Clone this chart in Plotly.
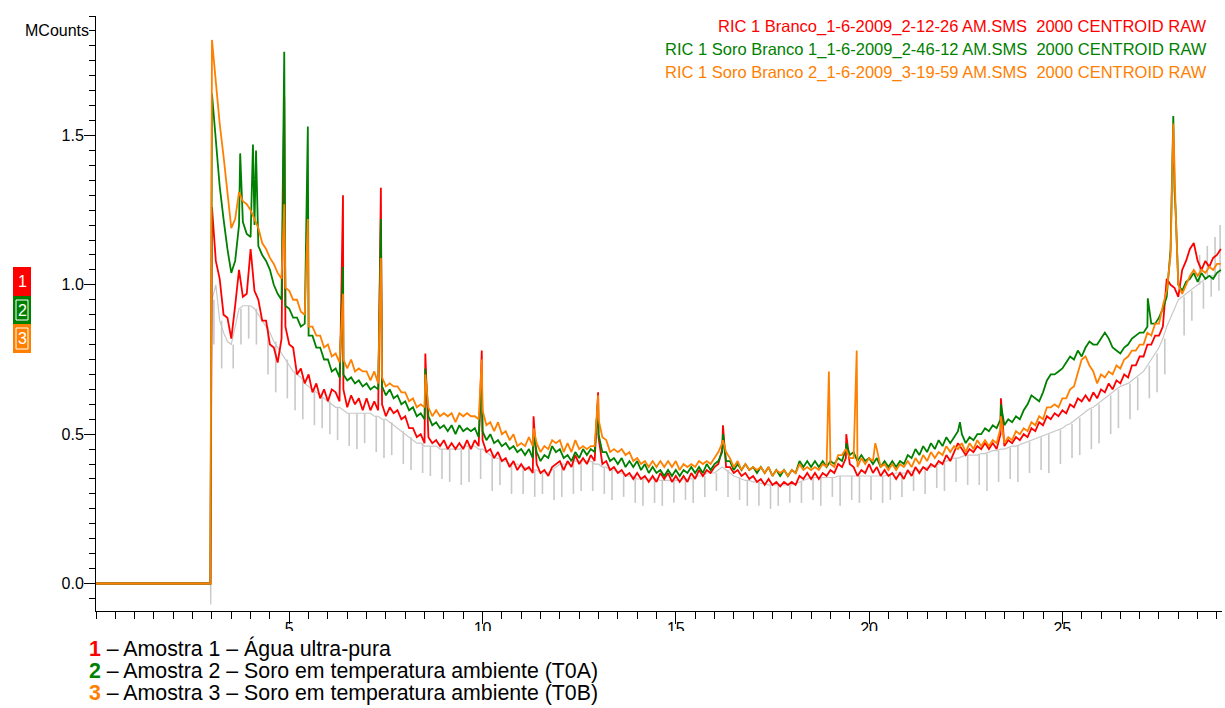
import numpy as np
import plotly.graph_objects as go

# ---------------- chromatogram data (MCounts vs. retention time, min) ----------------
# Scans are stored every 0.1 min from 3.0 min; before that the detector is idle (0).
scan_start = 3.0
scan_step = 0.1

red_scan = [
    1.26, 1.08, 1.02, 0.90, 0.89, 0.82, 0.93, 1.05, 0.96, 0.97,
    1.12, 0.98, 0.95, 0.88, 0.88, 0.80, 0.79, 0.74, 0.82, 0.86,
    0.80, 0.79, 0.70, 0.72, 0.67, 0.70, 0.64, 0.67, 0.62, 0.65,
    0.61, 0.65, 0.64, 0.61, 0.65, 0.59, 0.63, 0.60, 0.62, 0.58,
    0.62, 0.58, 0.61, 0.58, 0.60, 0.56, 0.59, 0.57, 0.58, 0.55,
    0.56, 0.52, 0.52, 0.49, 0.50, 0.47, 0.49, 0.47, 0.48, 0.46,
    0.48, 0.45, 0.47, 0.45, 0.47, 0.45, 0.48, 0.45, 0.48, 0.46,
    0.48, 0.44, 0.45, 0.42, 0.44, 0.41, 0.42, 0.39, 0.41, 0.38,
    0.40, 0.38, 0.39, 0.37, 0.40, 0.37, 0.38, 0.36, 0.39, 0.40,
    0.41, 0.38, 0.41, 0.39, 0.43, 0.40, 0.42, 0.40, 0.43, 0.41,
    0.49, 0.40, 0.41, 0.38, 0.39, 0.37, 0.38, 0.36, 0.37, 0.35,
    0.37, 0.35, 0.36, 0.34, 0.36, 0.34, 0.37, 0.35, 0.37, 0.34,
    0.36, 0.34, 0.36, 0.34, 0.37, 0.35, 0.38, 0.36, 0.38, 0.37,
    0.39, 0.40, 0.45, 0.39, 0.39, 0.37, 0.38, 0.36, 0.37, 0.35,
    0.36, 0.34, 0.35, 0.33, 0.35, 0.33, 0.34, 0.325, 0.34, 0.33,
    0.34, 0.33, 0.36, 0.35, 0.37, 0.35, 0.37, 0.35, 0.37, 0.36,
    0.38, 0.37, 0.40, 0.39, 0.42, 0.40, 0.39, 0.36, 0.38, 0.37,
    0.40, 0.37, 0.39, 0.36, 0.38, 0.36, 0.37, 0.35, 0.37, 0.35,
    0.38, 0.36, 0.39, 0.37, 0.39, 0.38, 0.40, 0.39, 0.41, 0.40,
    0.43, 0.41, 0.44, 0.47, 0.45, 0.43, 0.45, 0.44, 0.46, 0.45,
    0.47, 0.45, 0.47, 0.45, 0.50, 0.46, 0.48, 0.47, 0.49, 0.48,
    0.50, 0.49, 0.52, 0.51, 0.54, 0.53, 0.56, 0.55, 0.57, 0.56,
    0.58, 0.57, 0.60, 0.59, 0.62, 0.61, 0.63, 0.61, 0.64, 0.62,
    0.65, 0.64, 0.67, 0.65, 0.68, 0.67, 0.70, 0.69, 0.73, 0.73,
    0.76, 0.76, 0.80, 0.80, 0.83, 0.83, 0.86, 1.02, 1.00, 0.99,
    0.96, 1.05, 1.08, 1.12, 1.14, 1.08, 1.05, 1.08, 1.06, 1.09,
    1.10, 1.12,
]

green_scan = [
    1.64, 1.47, 1.33, 1.22, 1.12, 1.04, 1.08, 1.20, 1.21, 1.17,
    1.16, 1.20, 1.13, 1.10, 1.08, 1.05, 1.00, 0.97, 0.95, 0.93,
    0.92, 0.89, 0.89, 0.86, 0.87, 0.83, 0.83, 0.79, 0.79, 0.75,
    0.75, 0.71, 0.72, 0.69, 0.70, 0.68, 0.69, 0.67, 0.68, 0.66,
    0.67, 0.65, 0.66, 0.65, 0.66, 0.63, 0.65, 0.62, 0.63, 0.60,
    0.61, 0.58, 0.59, 0.56, 0.57, 0.55, 0.56, 0.53, 0.54, 0.52,
    0.53, 0.51, 0.53, 0.50, 0.53, 0.51, 0.52, 0.51, 0.52, 0.49,
    0.51, 0.48, 0.50, 0.47, 0.48, 0.46, 0.47, 0.45, 0.46, 0.44,
    0.45, 0.43, 0.45, 0.42, 0.44, 0.41, 0.43, 0.42, 0.46, 0.44,
    0.45, 0.42, 0.43, 0.41, 0.44, 0.42, 0.45, 0.43, 0.45, 0.44,
    0.50, 0.44, 0.44, 0.41, 0.42, 0.40, 0.42, 0.39, 0.41, 0.39,
    0.41, 0.38, 0.40, 0.37, 0.39, 0.37, 0.38, 0.36, 0.38, 0.36,
    0.38, 0.36, 0.38, 0.37, 0.39, 0.37, 0.39, 0.37, 0.40, 0.38,
    0.40, 0.41, 0.44, 0.41, 0.41, 0.38, 0.40, 0.38, 0.40, 0.38,
    0.39, 0.37, 0.39, 0.37, 0.39, 0.36, 0.38, 0.36, 0.38, 0.36,
    0.38, 0.37, 0.41, 0.39, 0.41, 0.39, 0.41, 0.39, 0.41, 0.39,
    0.41, 0.40, 0.42, 0.41, 0.45, 0.43, 0.44, 0.41, 0.43, 0.41,
    0.42, 0.40, 0.42, 0.39, 0.41, 0.39, 0.41, 0.39, 0.41, 0.40,
    0.43, 0.42, 0.45, 0.43, 0.46, 0.44, 0.47, 0.45, 0.48, 0.46,
    0.49, 0.47, 0.49, 0.51, 0.50, 0.47, 0.49, 0.48, 0.50, 0.50,
    0.52, 0.51, 0.53, 0.52, 0.55, 0.53, 0.55, 0.54, 0.56, 0.55,
    0.58, 0.60, 0.63, 0.62, 0.61, 0.64, 0.68, 0.70, 0.70, 0.71,
    0.72, 0.74, 0.76, 0.75, 0.78, 0.76, 0.79, 0.81, 0.80, 0.80,
    0.82, 0.84, 0.82, 0.79, 0.78, 0.77, 0.79, 0.80, 0.82, 0.83,
    0.84, 0.84, 0.86, 0.87, 0.87, 0.89, 0.92, 0.96, 1.12, 1.32,
    1.00, 0.98, 1.01, 1.02, 1.04, 1.01, 1.04, 1.02, 1.03, 1.02,
    1.04, 1.05,
]

orange_scan = [
    1.82, 1.68, 1.54, 1.43, 1.30, 1.19, 1.22, 1.31, 1.28, 1.27,
    1.25, 1.22, 1.19, 1.14, 1.12, 1.09, 1.07, 1.04, 1.02, 0.99,
    0.98, 0.95, 0.95, 0.91, 0.90, 0.86, 0.86, 0.83, 0.83, 0.79,
    0.80, 0.76, 0.77, 0.74, 0.75, 0.72, 0.75, 0.71, 0.72, 0.71,
    0.71, 0.68, 0.71, 0.67, 0.69, 0.66, 0.67, 0.66, 0.66, 0.64,
    0.64, 0.61, 0.62, 0.59, 0.60, 0.59, 0.59, 0.56, 0.58, 0.56,
    0.57, 0.56, 0.57, 0.54, 0.57, 0.56, 0.57, 0.56, 0.56, 0.55,
    0.58, 0.53, 0.54, 0.51, 0.54, 0.50, 0.51, 0.48, 0.50, 0.46,
    0.47, 0.46, 0.49, 0.46, 0.47, 0.44, 0.46, 0.45, 0.48, 0.47,
    0.48, 0.44, 0.47, 0.44, 0.48, 0.45, 0.46, 0.45, 0.46, 0.46,
    0.55, 0.49, 0.48, 0.44, 0.45, 0.44, 0.45, 0.43, 0.44, 0.41,
    0.42, 0.40, 0.41, 0.39, 0.41, 0.39, 0.41, 0.39, 0.41, 0.39,
    0.41, 0.38, 0.40, 0.39, 0.40, 0.39, 0.41, 0.40, 0.41, 0.40,
    0.42, 0.44, 0.47, 0.44, 0.42, 0.39, 0.41, 0.38, 0.40, 0.38,
    0.39, 0.38, 0.39, 0.37, 0.39, 0.36, 0.38, 0.37, 0.38, 0.36,
    0.38, 0.37, 0.40, 0.38, 0.39, 0.38, 0.39, 0.38, 0.40, 0.39,
    0.40, 0.39, 0.43, 0.43, 0.45, 0.42, 0.42, 0.39, 0.42, 0.40,
    0.42, 0.41, 0.45, 0.39, 0.40, 0.38, 0.40, 0.38, 0.40, 0.39,
    0.41, 0.39, 0.42, 0.40, 0.43, 0.41, 0.44, 0.42, 0.44, 0.43,
    0.46, 0.44, 0.46, 0.45, 0.47, 0.44, 0.47, 0.45, 0.48, 0.46,
    0.48, 0.46, 0.48, 0.47, 0.52, 0.47, 0.49, 0.48, 0.51, 0.50,
    0.52, 0.51, 0.54, 0.53, 0.56, 0.55, 0.59, 0.59, 0.60, 0.59,
    0.62, 0.62, 0.65, 0.66, 0.71, 0.75, 0.76, 0.73, 0.71, 0.67,
    0.70, 0.69, 0.71, 0.70, 0.73, 0.72, 0.75, 0.76, 0.78, 0.78,
    0.80, 0.80, 0.84, 0.83, 0.87, 0.87, 0.93, 0.98, 1.10, 1.40,
    1.00, 0.97, 1.00, 1.03, 1.05, 1.03, 1.05, 1.04, 1.06, 1.05,
    1.07, 1.07,
]

gray_scan = [
    0.95, 1.00, 0.88, 0.84, 0.81, 0.80, 0.86, 0.92, 0.93, 0.93,
    0.93, 0.92, 0.90, 0.88, 0.86, 0.84, 0.81, 0.79, 0.77, 0.75,
    0.73, 0.71, 0.70, 0.69, 0.67, 0.66, 0.65, 0.64, 0.63, 0.62,
    0.61, 0.60, 0.59, 0.59, 0.58, 0.57, 0.57, 0.57, 0.57, 0.57,
    0.57, 0.57, 0.56, 0.56, 0.55, 0.55, 0.54, 0.53, 0.52, 0.51,
    0.50, 0.49, 0.48, 0.47, 0.47, 0.46, 0.46, 0.46, 0.46, 0.45,
    0.45, 0.45, 0.45, 0.45, 0.45, 0.46, 0.46, 0.46, 0.46, 0.45,
    0.45, 0.44, 0.43, 0.42, 0.42, 0.41, 0.41, 0.40, 0.40, 0.40,
    0.39, 0.39, 0.38, 0.38, 0.38, 0.37, 0.37, 0.37, 0.38, 0.39,
    0.40, 0.40, 0.40, 0.41, 0.41, 0.41, 0.41, 0.41, 0.41, 0.40,
    0.40, 0.39, 0.39, 0.38, 0.38, 0.37, 0.37, 0.36, 0.36, 0.36,
    0.35, 0.35, 0.35, 0.35, 0.35, 0.35, 0.345, 0.345, 0.345, 0.345,
    0.345, 0.345, 0.35, 0.35, 0.35, 0.36, 0.36, 0.36, 0.37, 0.37,
    0.37, 0.38, 0.39, 0.38, 0.37, 0.36, 0.355, 0.35, 0.345, 0.345,
    0.34, 0.34, 0.335, 0.335, 0.33, 0.33, 0.33, 0.33, 0.33, 0.33,
    0.33, 0.335, 0.34, 0.345, 0.35, 0.355, 0.355, 0.355, 0.355, 0.355,
    0.355, 0.355, 0.36, 0.36, 0.36, 0.36, 0.36, 0.36, 0.36, 0.36,
    0.36, 0.36, 0.36, 0.36, 0.36, 0.365, 0.365, 0.37, 0.37, 0.37,
    0.37, 0.375, 0.38, 0.38, 0.385, 0.39, 0.39, 0.395, 0.40, 0.405,
    0.41, 0.415, 0.42, 0.42, 0.425, 0.43, 0.43, 0.43, 0.43, 0.435,
    0.435, 0.44, 0.445, 0.445, 0.45, 0.45, 0.455, 0.46, 0.46, 0.465,
    0.47, 0.475, 0.48, 0.485, 0.49, 0.495, 0.50, 0.505, 0.51, 0.515,
    0.52, 0.53, 0.535, 0.545, 0.555, 0.565, 0.575, 0.585, 0.59, 0.60,
    0.61, 0.62, 0.63, 0.64, 0.65, 0.66, 0.665, 0.67, 0.68, 0.69,
    0.70, 0.71, 0.73, 0.75, 0.77, 0.79, 0.82, 0.86, 0.89, 0.92,
    0.95, 0.96, 0.97, 0.98, 0.99, 1.00, 1.01, 1.02, 1.03, 1.03,
    1.04, 1.05,
]

# Narrow single-scan peaks that fall between stored scans
red_spike_t = [4.87, 6.39, 7.37, 8.52, 9.98, 11.32, 12.99, 16.22, 19.41, 23.41]
red_spike_v = [1.63, 1.30, 1.325, 0.77, 0.78, 0.56, 0.64, 0.53, 0.50, 0.62]

green_spike_t = [3.73, 4.06, 4.14, 4.87, 5.48, 6.39, 7.37, 8.52, 9.98, 11.32,
                 12.99, 16.22, 19.41, 22.35, 23.41, 27.21, 27.85, 27.87, 27.93]
green_spike_v = [1.44, 1.47, 1.45, 1.78, 1.53, 1.06, 1.22, 0.72, 0.70, 0.50,
                 0.62, 0.50, 0.47, 0.54, 0.60, 0.955, 1.45, 1.565, 1.25]

orange_spike_t = [4.87, 5.48, 6.39, 7.37, 8.52, 9.98, 11.32, 12.99, 16.22, 18.96,
                  19.68, 20.16, 23.41, 27.85, 27.87, 27.93]
orange_spike_v = [1.27, 1.22, 0.97, 1.09, 0.70, 0.75, 0.52, 0.63, 0.48, 0.71,
                  0.78, 0.47, 0.56, 1.45, 1.54, 1.25]

# Background trace: single-scan drop-outs (and a few upward hits near the end),
# each one drawn as a vertical stroke from the background level
gray_hit_t = [3.05, 3.25, 3.55, 3.75, 3.95, 4.15, 4.45, 4.65, 4.95, 5.15,
              5.35, 5.65, 5.85, 6.05, 6.25, 6.55, 6.75, 6.95, 7.25, 7.45,
              7.65, 7.95, 8.15, 8.45, 8.65, 8.95, 9.15, 9.45, 9.65, 9.95,
              10.25, 10.45, 10.75, 11.05, 11.35, 11.55, 11.85, 12.05, 12.35, 12.55,
              12.85, 13.15, 13.35, 13.65, 13.95, 14.15, 14.45, 14.65, 14.95, 15.25,
              15.45, 15.75, 16.05, 16.35, 16.65, 16.85, 17.15, 17.45, 17.65, 17.95,
              18.25, 18.55, 18.75, 19.05, 19.25, 19.55, 19.75, 20.05, 20.35, 20.55,
              20.85, 21.15, 21.45, 21.75, 21.95, 22.25, 22.55, 22.85, 23.05, 23.35,
              23.65, 23.85, 24.15, 24.45, 24.65, 24.95, 25.25, 25.45, 25.75, 25.95,
              26.25, 26.45, 26.75, 26.95, 27.25, 27.45, 27.65, 28.15, 28.35, 28.55,
              28.65, 28.75, 28.85, 28.95, 29.05, 29.08]
gray_hit_v = [0.80, 0.72, 0.72, 0.80, 0.82, 0.80, 0.70, 0.64, 0.62, 0.58,
              0.55, 0.53, 0.52, 0.50, 0.48, 0.46, 0.45, 0.47, 0.44, 0.42,
              0.43, 0.40, 0.38, 0.37, 0.36, 0.35, 0.34, 0.33, 0.34, 0.35,
              0.31, 0.33, 0.30, 0.30, 0.29, 0.30, 0.28, 0.29, 0.30, 0.31,
              0.31, 0.30, 0.28, 0.29, 0.27, 0.26, 0.27, 0.26, 0.27, 0.28,
              0.27, 0.29, 0.31, 0.29, 0.28, 0.26, 0.26, 0.25, 0.26, 0.27,
              0.27, 0.28, 0.26, 0.29, 0.26, 0.28, 0.27, 0.28, 0.27, 0.28,
              0.29, 0.31, 0.30, 0.32, 0.31, 0.34, 0.33, 0.33, 0.31, 0.34,
              0.35, 0.34, 0.37, 0.38, 0.37, 0.40, 0.42, 0.43, 0.45, 0.47,
              0.50, 0.52, 0.55, 0.58, 0.62, 0.64, 0.70, 0.83, 0.88, 1.10,
              0.92, 1.13, 0.96, 1.16, 0.98, 1.20]

# Idle period before the first scan
lead_t = [0.0, 2.96]
lead_v = [0.0, 0.0]
gray_lead_t = [0.0, 2.96, 2.97]
gray_lead_v = [0.0, 0.0, -0.07]

# Header lines (file names) and sample captions
header_lines = [
    "RIC 1 Branco_1-6-2009_2-12-26 AM.SMS  2000 CENTROID RAW",
    "RIC 1 Soro Branco 1_1-6-2009_2-46-12 AM.SMS  2000 CENTROID RAW",
    "RIC 1 Soro Branco 2_1-6-2009_3-19-59 AM.SMS  2000 CENTROID RAW",
]
sample_ids = ["1", "2", "3"]
sample_captions = [
    "Amostra 1 \u2013 \u00c1gua ultra-pura",
    "Amostra 2 \u2013 Soro em temperatura ambiente (T0A)",
    "Amostra 3 \u2013 Soro em temperatura ambiente (T0B)",
]
x_tick_vals = [5, 10, 15, 20, 25]
y_tick_vals = [0.0, 0.5, 1.0, 1.5]

# ---------------- assembly ----------------
n_scan = len(red_scan)
assert n_scan == len(green_scan) == len(orange_scan) == len(gray_scan)
scan_time = np.round(scan_start + scan_step * np.arange(n_scan), 2)


def trace_xy(pre_t, pre_v, scan, spk_t, spk_v):
    t = np.concatenate([pre_t, scan_time, spk_t])
    v = np.concatenate([pre_v, scan, spk_v])
    order = np.argsort(t, kind="stable")
    return t[order], v[order]


def stroke_xy(hit_t, hit_v, scan):
    # vertical strokes starting from the stored scan just before each hit
    xs, ys = [], []
    for t, v in zip(hit_t, hit_v):
        i = min(int((t - scan_start) / scan_step), len(scan) - 1)
        xs += [t, t, None]
        ys += [scan[i], v, None]
    return xs, ys


RED = "#ff0000"
GREEN = "#008000"
ORANGE = "#ff8000"
GRAY = "#c8c8c8"

fig = go.Figure()

# background trace
gx, gy = trace_xy(gray_lead_t, gray_lead_v, gray_scan, [], [])
fig.add_trace(go.Scatter(x=gx, y=gy, mode="lines", line=dict(color=GRAY, width=1.2),
                         hoverinfo="skip", showlegend=False))
sx, sy = stroke_xy(gray_hit_t, gray_hit_v, gray_scan)
fig.add_trace(go.Scatter(x=sx, y=sy, mode="lines", line=dict(color=GRAY, width=1.6),
                         hoverinfo="skip", showlegend=False, connectgaps=False))

series = [
    (red_scan, red_spike_t, red_spike_v, RED),
    (green_scan, green_spike_t, green_spike_v, GREEN),
    (orange_scan, orange_spike_t, orange_spike_v, ORANGE),
]
for scan, st, sv, col in series:
    x, y = trace_xy(lead_t, lead_v, scan, st, sv)
    fig.add_trace(go.Scatter(x=x, y=y, mode="lines",
                             line=dict(color=col, width=1.8),
                             hoverinfo="skip", showlegend=False))

# ---------------- layout ----------------
W, H = 1225, 708
PL, PR, PT, PB = 96, 1222, 16, 611     # plot area in pixels
X_MAX = 29.13
Y_MIN, Y_MAX = -0.092, 1.9

SANS = "Liberation Sans, Arial, sans-serif"


def fx(px):
    return (px - PL) / (PR - PL)


def fy(py):
    return (PB - py) / (PB - PT)


fig.update_layout(
    width=W, height=H,
    margin=dict(l=PL, r=W - PR, t=PT, b=H - PB, pad=0),
    paper_bgcolor="white", plot_bgcolor="white",
    showlegend=False,
)

fig.update_xaxes(
    range=[0, X_MAX], showgrid=False, zeroline=False,
    showline=True, linecolor="black", linewidth=1,
    tickmode="array", tickvals=x_tick_vals, ticktext=[str(v) for v in x_tick_vals],
    ticks="outside", ticklen=12, tickwidth=1, tickcolor="black",
    ticklabelstandoff=-9,
    tickfont=dict(family=SANS, size=16, color="black"),
    minor=dict(tickmode="array", tickvals=[k * 0.5 for k in range(0, 59)],
               ticks="outside", ticklen=7, tickwidth=1, tickcolor="black", showgrid=False),
)
fig.update_yaxes(
    range=[Y_MIN, Y_MAX], showgrid=False, zeroline=False,
    showline=True, linecolor="black", linewidth=1,
    tickmode="array", tickvals=y_tick_vals, ticktext=[f"{v:.1f}" for v in y_tick_vals],
    ticks="outside", ticklen=11, tickwidth=1, tickcolor="black",
    ticklabelstandoff=-3,
    tickfont=dict(family=SANS, size=16, color="black"),
    minor=dict(tickmode="array", tickvals=[round(-0.05 + k * 0.05, 2) for k in range(0, 40)],
               ticks="outside", ticklen=6, tickwidth=1, tickcolor="black", showgrid=False),
)

ann = []
shapes = []

# unit label at the top of the y axis
ann.append(dict(x=fx(91), y=fy(30), xref="paper", yref="paper", text="MCounts",
                showarrow=False, xanchor="right", yanchor="middle",
                font=dict(family=SANS, size=16, color="black")))

# file header lines, top right
for i, (txt, col) in enumerate(zip(header_lines, [RED, GREEN, ORANGE])):
    ann.append(dict(x=fx(1209), y=fy(26 + 23 * i), xref="paper", yref="paper", text=txt,
                    showarrow=False, xanchor="right", yanchor="middle",
                    font=dict(family=SANS, size=16.5, color=col)))

# trace markers at the left
box_top = [267, 296, 324]
box_bot = [296, 324, 353]
for sid, col, y0, y1 in zip(sample_ids, [RED, GREEN, ORANGE], box_top, box_bot):
    shapes.append(dict(type="rect", xref="paper", yref="paper",
                       x0=fx(13), x1=fx(31), y0=fy(y1), y1=fy(y0),
                       fillcolor=col, line=dict(width=0), layer="above"))
    if sid != "1":
        shapes.append(dict(type="rect", xref="paper", yref="paper",
                           x0=fx(16), x1=fx(28), y0=fy(y1 - 4), y1=fy(y0 + 4),
                           fillcolor="rgba(0,0,0,0)", line=dict(width=1, color="white"),
                           layer="above"))
    ann.append(dict(x=fx(22), y=fy((y0 + y1) / 2), xref="paper", yref="paper", text=sid,
                    showarrow=False, xanchor="center", yanchor="middle",
                    font=dict(family=SANS, size=16, color="white")))

# white caption band below the axis (it hides the lower part of the time labels)
shapes.append(dict(type="rect", xref="paper", yref="paper",
                   x0=fx(0), x1=fx(W), y0=fy(H), y1=fy(631),
                   fillcolor="white", line=dict(width=0), layer="above"))

for i, (sid, cap, col) in enumerate(zip(sample_ids, sample_captions, [RED, GREEN, ORANGE])):
    ann.append(dict(x=fx(87), y=fy(648 + 22.5 * i), xref="paper", yref="paper",
                    text=f"<b><span style='color:{col}'>{sid}</span></b> \u2013 {cap}",
                    showarrow=False, xanchor="left", yanchor="middle",
                    font=dict(family=SANS, size=21.3, color="black")))

fig.update_layout(annotations=ann, shapes=shapes)

fig.write_html("out.html")
